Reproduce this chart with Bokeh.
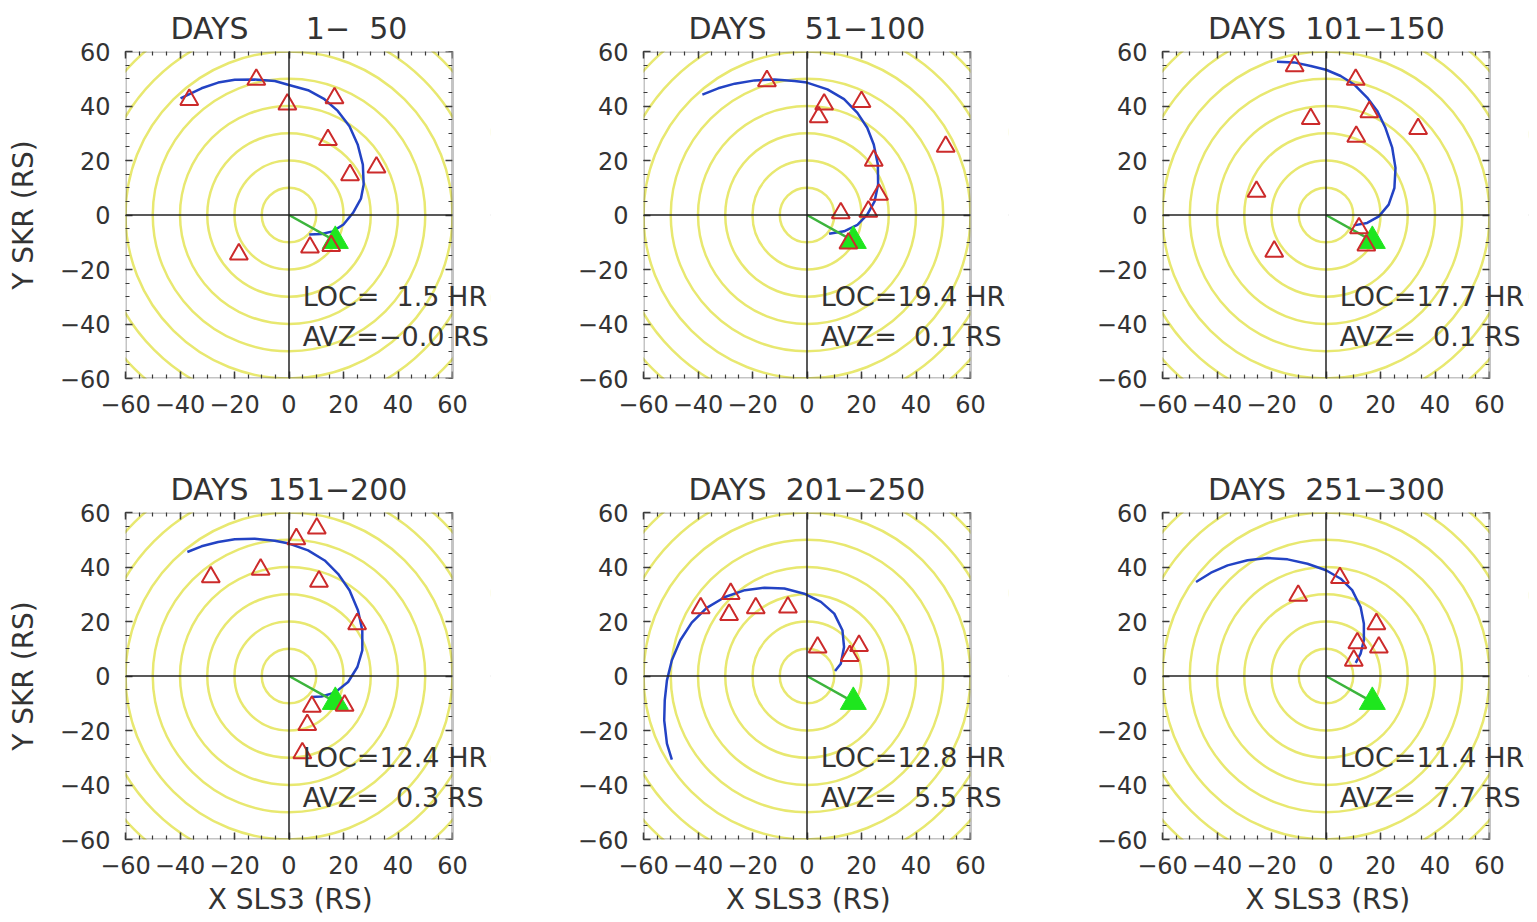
from bokeh.plotting import figure
from bokeh.models import (Range1d, Span, Label, LinearAxis, FixedTicker,
                          BoxAnnotation)
from bokeh.layouts import column, row
from bokeh.embed import file_html
from bokeh.resources import INLINE

NB = "\u00a0"
MINUS = "\u2212"

# ---------------- data ----------------
TITLES = ["DAYS" + NB * 6 + "1" + MINUS + NB * 2 + "50",
          "DAYS" + NB * 4 + "51" + MINUS + "100",
          "DAYS" + NB * 2 + "101" + MINUS + "150",
          "DAYS" + NB * 2 + "151" + MINUS + "200",
          "DAYS" + NB * 2 + "201" + MINUS + "250",
          "DAYS" + NB * 2 + "251" + MINUS + "300"]
LOC_TEXT = ["LOC=" + NB * 2 + "1.5 HR", "LOC=19.4 HR", "LOC=17.7 HR",
            "LOC=12.4 HR", "LOC=12.8 HR", "LOC=11.4 HR"]
AVZ_TEXT = ["AVZ=" + MINUS + "0.0 RS", "AVZ=" + NB * 2 + "0.1 RS",
            "AVZ=" + NB * 2 + "0.1 RS", "AVZ=" + NB * 2 + "0.3 RS",
            "AVZ=" + NB * 2 + "5.5 RS", "AVZ=" + NB * 2 + "7.7 RS"]
X_LABEL = "X SLS3 (RS)"
Y_LABEL = "Y SKR (RS)"

TICKS = [-60, -40, -20, 0, 20, 40, 60]
MINOR_TICKS = list(range(-60, 61, 5))
RINGS = [10, 20, 30, 40, 50, 60, 70, 80]
SUN_X = 17.0
SUN_Y = -9.5

RED1_X = [-36.6, -12.0, -0.6, 16.7, 14.3, 22.4, 32.1, -18.4, 7.7, 15.5]
RED1_Y = [42.3, 49.7, 40.6, 42.9, 27.6, 14.7, 17.5, -14.4, -11.9, -11.3]
BLUE1_X = [-39.8, -32.1, -26.0, -19.9, -12.6, -5.2, 0.0, 7.0, 13.0, 17.9, 22.2,
           25.2, 27.1, 27.4, 26.4, 23.5, 20.0, 16.0, 12.0, 7.4]
BLUE1_Y = [42.8, 46.5, 48.6, 49.6, 49.7, 49.2, 47.7, 45.8, 42.5, 38.2, 32.6,
           25.9, 18.5, 11.2, 6.0, 0.8, -3.5, -6.0, -7.0, -7.2]

RED2_X = [-14.7, 6.3, 4.3, 20.0, 50.9, 24.5, 26.4, 12.4, 22.5, 15.2]
RED2_Y = [49.2, 40.6, 35.9, 41.5, 25.1, 20.0, 7.5, 0.7, 1.3, -10.4]
BLUE2_X = [-38.4, -32.6, -26.5, -19.2, -11.9, -4.6, 0.0, 7.5, 13.6, 18.5, 22.1,
           24.5, 26.0, 26.1, 24.8, 22.1, 18.5, 13.6, 8.1]
BLUE2_Y = [44.2, 46.5, 48.2, 49.4, 49.7, 49.2, 48.6, 46.1, 42.5, 37.5, 32.0,
           25.9, 18.5, 11.2, 5.0, 0.1, -3.6, -6.0, -6.9]

RED3_X = [-11.5, 10.9, -5.6, 15.9, 11.1, 33.8, -25.5, -19.0, 12.1, 14.8]
RED3_Y = [54.7, 49.7, 35.3, 37.8, 28.8, 31.6, 8.6, -13.4, -4.8, -11.1]
BLUE3_X = [-18.0, -11.7, -5.6, 0.0, 5.4, 10.2, 15.1, 18.8, 21.8, 24.3, 25.5,
           25.1, 23.0, 19.4, 15.1, 10.2]
BLUE3_Y = [56.2, 56.0, 54.7, 53.3, 51.0, 48.0, 43.1, 38.2, 32.0, 24.7, 17.3,
           9.9, 3.8, -0.5, -2.9, -3.8]

RED4_X = [10.2, 2.7, -10.4, -28.7, 11.0, 25.0, 8.4, 20.4, 6.7, 4.9]
RED4_Y = [54.2, 50.3, 39.1, 36.3, 34.7, 19.1, -11.2, -10.8, -17.9, -28.3]
BLUE4_X = [-37.3, -32.1, -26.0, -19.9, -12.6, -5.2, 0.0, 7.0, 13.1, 18.0, 22.2,
           25.3, 26.9, 26.9, 25.1, 21.7, 16.8, 11.9, 8.2]
BLUE4_Y = [45.5, 47.6, 49.2, 50.2, 50.4, 49.6, 48.6, 46.1, 42.4, 37.5, 31.5,
           24.1, 16.8, 9.4, 3.3, -2.2, -6.1, -7.5, -7.7]

RED5_X = [-39.0, -28.0, -28.6, -18.8, -7.0, 3.9, 15.7, 19.1]
RED5_Y = [24.9, 30.2, 22.5, 24.9, 25.2, 10.5, 7.4, 11.1]
BLUE5_X = [-49.6, -51.4, -52.4, -52.2, -51.4, -49.6, -46.5, -42.3, -36.8, -30.1,
           -22.8, -15.6, -8.3, -1.0, 5.1, 10.0, 13.0, 13.6, 12.4, 10.3]
BLUE5_Y = [-30.7, -24.8, -16.3, -8.9, -1.6, 5.8, 13.1, 19.6, 25.0, 29.0,
           31.5, 32.4, 32.1, 30.2, 27.2, 22.9, 16.8, 10.6, 4.5, 1.8]

RED6_X = [5.1, -10.2, 18.5, 11.5, 19.4, 10.2]
RED6_Y = [36.0, 29.5, 19.1, 12.1, 10.5, 5.7]
BLUE6_X = [-47.7, -42.2, -36.1, -28.8, -21.5, -14.1, -6.8, 0.0, 5.4, 9.6, 12.7,
           13.9, 13.9, 12.7, 10.9]
BLUE6_Y = [34.5, 37.9, 40.6, 42.5, 43.3, 42.8, 41.2, 38.8, 35.7, 31.5, 25.3,
           19.2, 13.1, 8.2, 4.8]

REDS = [(RED1_X, RED1_Y), (RED2_X, RED2_Y), (RED3_X, RED3_Y),
        (RED4_X, RED4_Y), (RED5_X, RED5_Y), (RED6_X, RED6_Y)]
BLUES = [(BLUE1_X, BLUE1_Y), (BLUE2_X, BLUE2_Y), (BLUE3_X, BLUE3_Y),
         (BLUE4_X, BLUE4_Y), (BLUE5_X, BLUE5_Y), (BLUE6_X, BLUE6_Y)]

# ---------------- styling ----------------
FONT = "DejaVu Sans"
TXT = "#333333"
AXC = "#3a3a3a"
RING_C = "#e8e870"
BLUE_C = "#2343c4"
RED_C = "#cc2b2b"
GREEN_LINE = "#3cb43c"
GREEN_FILL = "#1ee61e"

BOX_PX = 327          # size of the square data box in pixels
LO, HI = TICKS[0], TICKS[-1]

OVR = {t: ((MINUS + str(-t)) if t < 0 else str(t)) for t in TICKS}


def style_axis(ax, labels=True):
    ax.ticker = FixedTicker(ticks=TICKS, minor_ticks=MINOR_TICKS)
    ax.axis_line_color = None
    ax.major_tick_in = 7
    ax.major_tick_out = 0
    ax.minor_tick_in = 4
    ax.minor_tick_out = 0
    ax.major_tick_line_color = AXC
    ax.minor_tick_line_color = AXC
    ax.major_tick_line_width = 1.5
    ax.minor_tick_line_width = 1.2
    if labels:
        ax.major_label_overrides = OVR
        ax.major_label_text_font = FONT
        ax.major_label_text_font_size = "24px"
        ax.major_label_text_color = TXT
    else:
        ax.major_label_text_font_size = "1px"
        ax.major_label_text_color = None
        ax.major_label_standoff = 0
    ax.axis_label_text_font = FONT
    ax.axis_label_text_font_size = "28px"
    ax.axis_label_text_font_style = "normal"
    ax.axis_label_text_color = TXT


def make_panel(i, frame_w, b_left, b_right, b_top, b_bottom, xlab, ylab):
    x_hi = HI + (frame_w - BOX_PX) * (HI - LO) / BOX_PX
    p = figure(frame_width=frame_w, frame_height=BOX_PX,
               x_range=Range1d(LO, x_hi), y_range=Range1d(LO, HI),
               output_backend="svg", toolbar_location=None,
               min_border_left=b_left, min_border_right=b_right,
               min_border_top=b_top, min_border_bottom=b_bottom,
               background_fill_color="white", border_fill_color="white")
    p.xgrid.visible = False
    p.ygrid.visible = False
    p.outline_line_color = None

    # trailing no-break spaces keep the title centred on the square box
    p.title.text = TITLES[i] + NB * 4
    p.title.align = "center"
    p.title.text_font = FONT
    p.title.text_font_size = "30px"
    p.title.text_font_style = "normal"
    p.title.text_color = TXT
    p.title.standoff = 11

    style_axis(p.xaxis[0])
    style_axis(p.yaxis[0])
    p.xaxis[0].major_label_standoff = 16
    p.yaxis[0].major_label_standoff = 15
    if xlab:
        p.xaxis[0].axis_label = X_LABEL + NB * 4
        p.xaxis[0].axis_label_standoff = 6
    if ylab:
        p.yaxis[0].axis_label = Y_LABEL
        p.yaxis[0].axis_label_standoff = 17

    top_ax = LinearAxis()
    style_axis(top_ax, labels=False)
    p.add_layout(top_ax, "above")
    right_ax = LinearAxis(fixed_location=HI)
    style_axis(right_ax, labels=False)
    p.add_layout(right_ax, "right")

    n = len(RINGS)
    p.circle(x=[0] * n, y=[0] * n, radius=RINGS, fill_color=None,
             line_color=RING_C, line_width=2.5)

    bx, by = BLUES[i]
    p.line(bx, by, line_color=BLUE_C, line_width=2.5)

    p.segment(x0=[0], y0=[0], x1=[SUN_X], y1=[SUN_Y], line_color=GREEN_LINE,
              line_width=2.5)
    p.scatter([SUN_X], [SUN_Y], marker="triangle", size=26,
              fill_color=GREEN_FILL, line_color=GREEN_FILL)

    rx, ry = REDS[i]
    p.scatter(rx, ry, marker="triangle", size=18, fill_color=None,
              line_color=RED_C, line_width=2)

    p.add_layout(Span(location=0, dimension="width", line_color="#222222",
                      line_width=1.5))
    p.add_layout(Span(location=0, dimension="height", line_color="#222222",
                      line_width=1.5))
    # blank strip right of the square box (room for the text overhang)
    p.add_layout(BoxAnnotation(left=HI, right=x_hi + 10, bottom=LO - 10,
                               top=HI + 10, fill_color="white", fill_alpha=1.0,
                               line_color=None))
    p.add_layout(Span(location=x_hi, dimension="height", line_color="white",
                      line_width=8))
    # the square box outline
    p.add_layout(BoxAnnotation(left=LO, right=HI, bottom=LO, top=HI,
                               fill_color=None, fill_alpha=0,
                               line_color=AXC, line_width=3))

    p.add_layout(Label(x=5, y=-29.8, text=LOC_TEXT[i], text_font=FONT,
                       text_font_size="27px", text_color=TXT,
                       text_baseline="alphabetic"))
    p.add_layout(Label(x=5, y=-44.5, text=AVZ_TEXT[i], text_font=FONT,
                       text_font_size="27px", text_color=TXT,
                       text_baseline="alphabetic"))
    return p


# page origin is (0,0): Bokeh's page template has no body margin
p1 = make_panel(0, 365, 125, 28, 51, 85, False, True)
p2 = make_panel(1, 365, 125, 28, 51, 85, False, False)
p3 = make_panel(2, 366, 126, 8, 51, 85, False, False)
p4 = make_panel(3, 365, 125, 28, 49, 83, True, True)
p5 = make_panel(4, 365, 125, 28, 49, 83, True, False)
p6 = make_panel(5, 366, 126, 8, 49, 83, True, False)

layout = column(row(p1, p2, p3), row(p4, p5, p6))

open("out.html", "w").write(file_html(layout, INLINE))
